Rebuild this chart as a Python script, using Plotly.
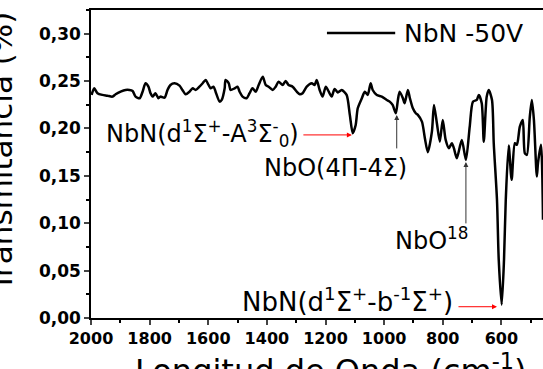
import plotly.graph_objects as go

# Wavenumber (cm-1) and transmittance
wavenumber = [1998, 1989, 1978, 1961, 1944, 1927, 1916, 1899, 1882, 1869, 1858, 1848, 1834, 1824, 1814,
              1804, 1797, 1790, 1780, 1770, 1763, 1749, 1739, 1729, 1715, 1698, 1688, 1677, 1664, 1653,
              1643, 1630, 1619, 1609, 1599, 1592, 1582, 1575, 1561, 1554, 1544, 1541, 1530, 1524, 1510,
              1500, 1493, 1483, 1469, 1459, 1449, 1438, 1428, 1414, 1404, 1394, 1380, 1370, 1360, 1346,
              1336, 1326, 1312, 1298, 1288, 1278, 1264, 1247, 1237, 1230, 1220, 1210, 1199, 1189, 1179,
              1169, 1158, 1145, 1128, 1117, 1107, 1097, 1090, 1076, 1066, 1056, 1046, 1039, 1025, 1008,
              991, 981, 971, 960, 953, 947, 936, 930, 919, 912, 902, 892, 885, 871, 861,
              851, 837, 830, 820, 810, 800, 790, 779, 769, 762, 752, 735, 721, 708, 697,
              684, 677, 667, 660, 650, 643, 632, 626, 615, 609, 599, 591, 585, 575, 565,
              554, 547, 537, 527, 520, 513, 503, 496, 489, 479, 475, 465, 458]
transmittance = [0.2354, 0.2424, 0.2372, 0.2354, 0.2346, 0.2336, 0.2361, 0.2388, 0.2406, 0.2406, 0.2396, 0.2336, 0.2319, 0.2388, 0.2477,
                 0.2441, 0.2372, 0.2336, 0.2372, 0.2319, 0.2336, 0.2325, 0.2406, 0.2459, 0.2477, 0.2452, 0.2406, 0.2361, 0.2388, 0.2424,
                 0.2406, 0.2441, 0.2477, 0.2512, 0.2459, 0.2424, 0.2441, 0.2388, 0.2283, 0.2301, 0.2424, 0.2512, 0.2477, 0.2406, 0.2424,
                 0.2440, 0.2388, 0.2336, 0.2319, 0.2372, 0.2424, 0.2388, 0.2459, 0.2546, 0.2459, 0.2441, 0.2406, 0.2441, 0.2494, 0.2459,
                 0.2501, 0.2459, 0.2441, 0.2388, 0.2361, 0.2372, 0.2441, 0.2477, 0.2459, 0.2512, 0.2406, 0.2336, 0.2441, 0.2388, 0.2336,
                 0.2417, 0.2380, 0.2406, 0.2354, 0.2143, 0.1950, 0.2037, 0.2213, 0.2319, 0.2388, 0.2354, 0.2477, 0.2406, 0.2354, 0.2336,
                 0.2301, 0.2283, 0.2248, 0.2161, 0.2301, 0.2388, 0.2319, 0.2266, 0.2406, 0.2319, 0.2213, 0.2161, 0.2143, 0.2072, 0.1897,
                 0.1750, 0.1967, 0.2248, 0.2055, 0.1861, 0.2090, 0.1879, 0.1792, 0.1844, 0.1792, 0.1686, 0.1879, 0.1668, 0.2019, 0.2283,
                 0.2301, 0.2354, 0.2266, 0.1861, 0.2336, 0.2406, 0.2301, 0.1844, 0.1247, 0.0614, 0.0140, 0.0614, 0.1247, 0.1820, 0.1458,
                 0.1844, 0.1827, 0.2019, 0.2090, 0.1739, 0.1721, 0.2125, 0.2301, 0.2090, 0.1492, 0.1637, 0.1827, 0.1036]

series_name = "NbN -50V"
x_range = [2000, 458]
y_range = [0, 0.325]
x_tick_values = [2000, 1800, 1600, 1400, 1200, 1000, 800, 600]
y_tick_values = [0.00, 0.05, 0.10, 0.15, 0.20, 0.25, 0.30]

# annotation anchors (wavenumber, transmittance)
label_texts = ["NbN(d<sup>1</sup>Σ<sup>+</sup>-A<sup>3</sup>Σ<sup>-</sup><sub>0</sub>)",
               "NbO(4Π-4Σ)",
               "NbO<sup>18</sup>",
               "NbN(d<sup>1</sup>Σ<sup>+</sup>-b<sup>-1</sup>Σ<sup>+</sup>)"]
label_x = [1282, 1165, 970, 759]
label_y = [0.195, 0.1584, 0.0836, 0.0193]
label_anchor = ["right", "center", "left", "right"]
label_size = [24, 24, 24, 26]

arrow_x = [1110, 957, 721, 615]
arrow_y = [0.1932, 0.2143, 0.1647, 0.0119]
arrow_ax = [-50, 0, 0, -40]
arrow_ay = [0, 35, 63, 0]
arrow_color = ["red", "#333333", "#333333", "red"]

FONT = "DejaVu Sans"

fig = go.Figure()
fig.add_trace(go.Scatter(x=wavenumber, y=transmittance, mode="lines",
                         line=dict(color="black", width=2.5, shape="spline", smoothing=0.7),
                         name=series_name, showlegend=False))

annotations = []
for t, x, y, a, s in zip(label_texts, label_x, label_y, label_anchor, label_size):
    annotations.append(dict(x=x, y=y, xref="x", yref="y", text=t, showarrow=False,
                            xanchor=a, yanchor="middle", font=dict(family=FONT, size=s, color="black")))
for x, y, ax, ay, c in zip(arrow_x, arrow_y, arrow_ax, arrow_ay, arrow_color):
    annotations.append(dict(x=x, y=y, xref="x", yref="y", text="", showarrow=True,
                            ax=ax, ay=ay, arrowhead=2, arrowsize=1, arrowwidth=1, arrowcolor=c))

# axis titles (partially cut off at the edges, as in the reference)
annotations.append(dict(x=-0.20, y=0.54, xref="paper", yref="paper", text="Transmitancia (%)",
                        textangle=-90, showarrow=False, xanchor="center", yanchor="middle",
                        font=dict(family=FONT, size=31, color="black")))
annotations.append(dict(x=0.53, y=-0.09, xref="paper", yref="paper", text="Longitud de Onda (cm<sup>-1</sup>)",
                        showarrow=False, xanchor="center", yanchor="top",
                        font=dict(family=FONT, size=32, color="black")))
# legend
annotations.append(dict(x=0.688, y=0.925, xref="paper", yref="paper", text=series_name,
                        showarrow=False, xanchor="left", yanchor="middle",
                        font=dict(family=FONT, size=25, color="black")))

fig.update_layout(
    width=543, height=369,
    margin=dict(l=91, r=0, t=10, b=51),
    paper_bgcolor="white", plot_bgcolor="white",
    separators=",.",
    showlegend=False,
    annotations=annotations,
    shapes=[dict(type="line", xref="paper", yref="paper", x0=0.522, x1=0.673, y0=0.925, y1=0.925,
                 line=dict(color="black", width=2.5))],
)
fig.update_xaxes(range=x_range, tickvals=x_tick_values, ticks="outside", ticklen=5, tickwidth=1.5,
                 showline=True, linecolor="black", linewidth=1.5, mirror=True, showgrid=False, zeroline=False,
                 tickfont=dict(family=FONT, size=16, color="black", weight="bold"),
                 minor=dict(dtick=100, tick0=0, ticks="outside", ticklen=3, tickwidth=1.5, tickcolor="black"))
fig.update_yaxes(range=y_range, tickvals=y_tick_values, tickformat=".2f", ticks="outside", ticklen=5, tickwidth=1.5,
                 showline=True, linecolor="black", linewidth=1.5, mirror=False, showgrid=False, zeroline=False,
                 tickfont=dict(family=FONT, size=17, color="black", weight="bold"),
                 minor=dict(dtick=0.025, tick0=0, ticks="outside", ticklen=3, tickwidth=1.5, tickcolor="black"))

fig.write_html("out.html")
